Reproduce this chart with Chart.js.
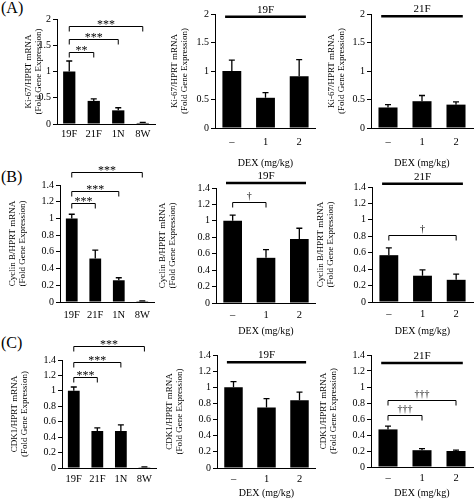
<!DOCTYPE html>
<html>
<head>
<meta charset="utf-8">
<script src="https://cdn.jsdelivr.net/npm/chart.js@4.4.1/dist/chart.umd.min.js"></script>
<style>
body { margin: 0; background: #fff; }
#fig { position: relative; width: 474px; height: 504px; overflow: hidden; font-family: "Liberation Serif", serif; }
#fig canvas { position: absolute; }
.tag { position: absolute; font-size: 16px; line-height: 18px; color: #000; }
</style>
</head>
<body>
<div id="fig">
  <div class="tag" style="left:1px;top:-1px">(A)</div>
  <div class="tag" style="left:1px;top:168px">(B)</div>
  <div class="tag" style="left:1px;top:334px">(C)</div>
</div>
<script>
// categories
const ageGroups = ['19F', '21F', '1N', '8W'];
const dexDoses = ['\u2013', '1', '2'];

// Ki-67 (row A)
const ki67Age = [1.0, 0.44, 0.26, 0.02];
const ki67AgeErr = [0.2, 0.04, 0.05, 0.01];
const ki67Dex19F = [1.0, 0.53, 0.91];
const ki67Dex19FErr = [0.19, 0.09, 0.29];
const ki67Dex21F = [0.36, 0.47, 0.41];
const ki67Dex21FErr = [0.05, 0.1, 0.05];

// Cyclin B (row B)
const cycAge = [1.0, 0.52, 0.26, 0.01];
const cycAgeErr = [0.05, 0.1, 0.03, 0.004];
const cycDex19F = [1.0, 0.55, 0.78];
const cycDex19FErr = [0.07, 0.1, 0.13];
const cycDex21F = [0.57, 0.32, 0.27];
const cycDex21FErr = [0.09, 0.07, 0.07];

// CDK1 (row C)
const cdkAge = [1.0, 0.48, 0.48, 0.01];
const cdkAgeErr = [0.05, 0.04, 0.08, 0.004];
const cdkDex19F = [1.0, 0.75, 0.84];
const cdkDex19FErr = [0.07, 0.11, 0.1];
const cdkDex21F = [0.47, 0.21, 0.2];
const cdkDex21FErr = [0.04, 0.02, 0.01];

// significance brackets: [from, to, level, label]
const ki67AgeSig = [[0, 1, 1.37, '**'], [0, 2, 1.62, '***'], [0, 3, 1.87, '***']];
const cycAgeSig = [[0, 1, 1.18, '***'], [0, 2, 1.33, '***'], [0, 3, 1.55, '***']];
const cdkAgeSig = [[0, 1, 1.18, '***'], [0, 2, 1.38, '***'], [0, 3, 1.58, '***']];
const cycDex19FSig = [[0, 1, 1.23, '\u2020']];
const cycDex21FSig = [[0, 2, 0.82, '\u2020']];
const cdkDex21FSig = [[0, 1, 0.65, '\u2020\u2020\u2020'], [0, 2, 0.84, '\u2020\u2020\u2020']];

// y ranges
const ki67Max = 2, ki67Step = 0.5;
const otherMax = 1.4, otherStep = 0.2;

const ki67Title = ['Ki-67/HPRT mRNA', '(Fold Gene Expression)'];
const cycTitle = ['Cyclin B/HPRT mRNA', '(Fold Gene Expression)'];
const cdkTitle = ['CDK1/HPRT mRNA', '(Fold Gene Expression)'];
const dexTitle = 'DEX (mg/kg)';

// error bars, brackets, the group line and the dose caption
const marks = {
    id: 'marks',
    afterDatasetsDraw(chart, args, opts) {
        const ctx = chart.ctx;
        const ys = chart.scales.y;
        const area = chart.chartArea;
        const bars = chart.getDatasetMeta(0).data;
        const vals = chart.data.datasets[0].data;
        const cat = bars[1].x - bars[0].x;
        ctx.save();
        ctx.strokeStyle = '#000';
        ctx.fillStyle = '#000';

        ctx.lineWidth = 1.3;
        bars.forEach((bar, i) => {
            const top = ys.getPixelForValue(vals[i] + opts.err[i]);
            ctx.beginPath();
            ctx.moveTo(bar.x, bar.y);
            ctx.lineTo(bar.x, top);
            ctx.moveTo(bar.x - 3, top);
            ctx.lineTo(bar.x + 3, top);
            ctx.stroke();
        });

        ctx.lineWidth = 1;
        ctx.textAlign = 'center';
        ctx.textBaseline = 'middle';
        (opts.sig || []).forEach(([a, b, level, label]) => {
            const xa = bars[a].x, xb = bars[b].x;
            const y = Math.round(ys.getPixelForValue(level)) + 0.5;
            ctx.beginPath();
            ctx.moveTo(xa, y + 5);
            ctx.lineTo(xa, y);
            ctx.lineTo(xb, y);
            ctx.lineTo(xb, y + 5);
            ctx.stroke();
            const dagger = label.indexOf('\u2020') >= 0;
            ctx.font = dagger ? '10px "Liberation Serif"' : '12px "Liberation Serif"';
            ctx.fillText(label, (xa + xb) / 2, y - (dagger ? 6 : 2));
        });

        if (opts.group) {
            const y = ys.getPixelForValue(opts.group[0]);
            const xa = bars[0].x - 0.2 * cat;
            const xb = bars[bars.length - 1].x + 0.2 * cat;
            ctx.lineWidth = 2.5;
            ctx.beginPath();
            ctx.moveTo(xa, y);
            ctx.lineTo(xb, y);
            ctx.stroke();
            ctx.font = '11px "Liberation Serif"';
            ctx.fillText(opts.group[1], (xa + xb) / 2, y - 7);
        }

        if (opts.xTitle) {
            ctx.font = '10px "Liberation Serif"';
            ctx.fillText(opts.xTitle, (area.left + area.right) / 2, area.bottom + opts.xTitleDy);
        }
        ctx.restore();
    }
};

const fig = document.getElementById('fig');

function makePanel(p) {
    const cv = document.createElement('canvas');
    cv.width = p.W;
    cv.height = p.H;
    cv.style.left = p.L + 'px';
    cv.style.top = p.T + 'px';
    fig.appendChild(cv);
    const [x0, y0, x1, y1] = p.area;
    const serif = '"Liberation Serif", serif';

    new Chart(cv, {
        type: 'bar',
        data: {
            labels: p.labels,
            datasets: [{
                data: p.values,
                backgroundColor: '#000',
                barPercentage: p.barPct,
                categoryPercentage: 1
            }]
        },
        options: {
            responsive: false,
            animation: false,
            layout: { padding: { left: 0, top: y0 - p.T, right: p.L + p.W - x1, bottom: 0 } },
            plugins: {
                legend: { display: false },
                tooltip: { enabled: false },
                marks: { err: p.err, sig: p.sig, group: p.group, xTitle: p.xTitle, xTitleDy: p.xTitleDy }
            },
            scales: {
                x: {
                    grid: { display: false, drawTicks: false },
                    border: { color: '#000', width: 1 },
                    ticks: { color: '#000', font: { family: serif, size: 10.5 }, padding: p.tickPad, maxRotation: 0, autoSkip: false },
                    afterFit(s) { s.height = p.T + p.H - y1; }
                },
                y: {
                    min: 0,
                    max: p.max,
                    ticks: {
                        stepSize: p.step,
                        color: '#000',
                        font: { family: serif, size: 10 },
                        padding: 2,
                        callback: v => +v.toFixed(1)
                    },
                    grid: { display: true, drawOnChartArea: false, drawTicks: true, tickLength: 4, color: '#000' },
                    border: { color: '#000', width: 1 },
                    title: {
                        display: true,
                        text: p.yTitle,
                        color: '#000',
                        font: { family: serif, size: 9, lineHeight: 1.1 },
                        padding: { top: Math.max(0, p.titleX - 4.95), bottom: 0 }
                    },
                    afterFit(s) { s.width = x0 - p.L; }
                }
            }
        },
        plugins: [marks]
    });
}

// row A
makePanel({ L: 0, T: 0, W: 157, H: 170, area: [57, 19, 155, 124], titleX: 29, tickPad: 4,
    labels: ageGroups, values: ki67Age, err: ki67AgeErr, sig: ki67AgeSig,
    max: ki67Max, step: ki67Step, yTitle: ki67Title, barPct: 0.5 });
makePanel({ L: 157, T: 0, W: 159, H: 170, area: [215, 14, 317, 128], titleX: 18, tickPad: 8,
    labels: dexDoses, values: ki67Dex19F, err: ki67Dex19FErr, group: [1.95, '19F'],
    max: ki67Max, step: ki67Step, yTitle: ki67Title, barPct: 0.56, xTitle: dexTitle, xTitleDy: 35 });
makePanel({ L: 316, T: 0, W: 158, H: 170, area: [371, 14, 473, 128], titleX: 16, tickPad: 8,
    labels: dexDoses, values: ki67Dex21F, err: ki67Dex21FErr, group: [1.96, '21F'],
    max: ki67Max, step: ki67Step, yTitle: ki67Title, barPct: 0.56, xTitle: dexTitle, xTitleDy: 35 });

// row B
makePanel({ L: 0, T: 165, W: 157, H: 172, area: [60, 185, 156, 302], titleX: 13, tickPad: 7,
    labels: ageGroups, values: cycAge, err: cycAgeErr, sig: cycAgeSig,
    max: otherMax, step: otherStep, yTitle: cycTitle, barPct: 0.5 });
makePanel({ L: 157, T: 165, W: 159, H: 172, area: [216, 188, 318, 303], titleX: 6, tickPad: 6,
    labels: dexDoses, values: cycDex19F, err: cycDex19FErr, sig: cycDex19FSig, group: [1.46, '19F'],
    max: otherMax, step: otherStep, yTitle: cycTitle, barPct: 0.56, xTitle: dexTitle, xTitleDy: 28 });
makePanel({ L: 316, T: 165, W: 158, H: 172, area: [372, 187, 473, 302], titleX: 5, tickPad: 6,
    labels: dexDoses, values: cycDex21F, err: cycDex21FErr, sig: cycDex21FSig, group: [1.44, '21F'],
    max: otherMax, step: otherStep, yTitle: cycTitle, barPct: 0.56, xTitle: dexTitle, xTitleDy: 29 });

// row C
makePanel({ L: 0, T: 336, W: 157, H: 168, area: [62, 360, 157, 468], titleX: 15, tickPad: 5,
    labels: ageGroups, values: cdkAge, err: cdkAgeErr, sig: cdkAgeSig,
    max: otherMax, step: otherStep, yTitle: cdkTitle, barPct: 0.5 });
makePanel({ L: 157, T: 336, W: 159, H: 168, area: [217, 355, 318, 468], titleX: 13, tickPad: 5,
    labels: dexDoses, values: cdkDex19F, err: cdkDex19FErr, group: [1.31, '19F'],
    max: otherMax, step: otherStep, yTitle: cdkTitle, barPct: 0.56, xTitle: dexTitle, xTitleDy: 25 });
makePanel({ L: 316, T: 336, W: 158, H: 168, area: [371, 355, 473, 467], titleX: 8, tickPad: 5,
    labels: dexDoses, values: cdkDex21F, err: cdkDex21FErr, sig: cdkDex21FSig, group: [1.3, '21F'],
    max: otherMax, step: otherStep, yTitle: cdkTitle, barPct: 0.56, xTitle: dexTitle, xTitleDy: 26 });
</script>
</body>
</html>
